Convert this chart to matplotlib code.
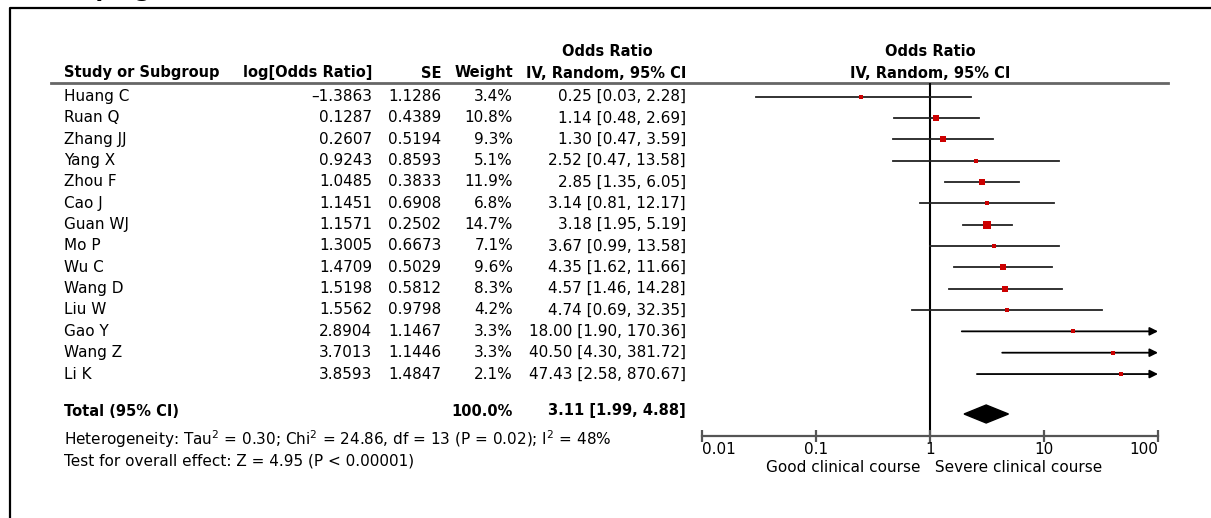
import matplotlib
matplotlib.use("Agg")
import matplotlib.pyplot as plt
import numpy as np

# ---- data ----
studies = ["Huang C", "Ruan Q", "Zhang JJ", "Yang X", "Zhou F", "Cao J", "Guan WJ",
           "Mo P", "Wu C", "Wang D", "Liu W", "Gao Y", "Wang Z", "Li K"]
log_or = [-1.3863, 0.1287, 0.2607, 0.9243, 1.0485, 1.1451, 1.1571,
          1.3005, 1.4709, 1.5198, 1.5562, 2.8904, 3.7013, 3.8593]
se = [1.1286, 0.4389, 0.5194, 0.8593, 0.3833, 0.6908, 0.2502,
      0.6673, 0.5029, 0.5812, 0.9798, 1.1467, 1.1446, 1.4847]
weight = [3.4, 10.8, 9.3, 5.1, 11.9, 6.8, 14.7, 7.1, 9.6, 8.3, 4.2, 3.3, 3.3, 2.1]
odds = [0.25, 1.14, 1.30, 2.52, 2.85, 3.14, 3.18, 3.67, 4.35, 4.57, 4.74, 18.00, 40.50, 47.43]
ci_lo = [0.03, 0.48, 0.47, 0.47, 1.35, 0.81, 1.95, 0.99, 1.62, 1.46, 0.69, 1.90, 4.30, 2.58]
ci_hi = [2.28, 2.69, 3.59, 13.58, 6.05, 12.17, 5.19, 13.58, 11.66, 14.28, 32.35, 170.36, 381.72, 870.67]

total_or, total_lo, total_hi = 3.11, 1.99, 4.88
total_weight = 100.0
hetero = "Heterogeneity: Tau$^2$ = 0.30; Chi$^2$ = 24.86, df = 13 (P = 0.02); I$^2$ = 48%"
overall = "Test for overall effect: Z = 4.95 (P < 0.00001)"

axis_ticks = [0.01, 0.1, 1, 10, 100]
axis_labels = ["0.01", "0.1", "1", "10", "100"]
favours = ("Good clinical course", "Severe clinical course")

W, H = 1211, 518
FS = 11       # body text
FSB = 10.5    # bold headers
RED = "#cc0000"

fig = plt.figure(figsize=(W / 100, H / 100), dpi=100)
ax = fig.add_axes([0, 0, 1, 1])
ax.set_xlim(0, W)
ax.set_ylim(H, 0)
ax.axis("off")

# frame (left + top edge, rest is cut off in the reference)
ax.plot([10, 10, W + 5], [H + 5, 8, 8], color="black", lw=1.6, clip_on=False)
# title sitting above the crop, only its descenders show
ax.text(152, -3, "Grouping", ha="right", va="baseline", fontsize=16,
        fontweight="bold", clip_on=False)

# ---- table headers ----
x_name, x_log, x_se, x_w, x_ci = 64, 372, 441, 513, 686
hdr_y1, hdr_y2 = 51, 73
ax.text(607, hdr_y1, "Odds Ratio", ha="center", va="center", fontsize=FSB, fontweight="bold")
ax.text(x_name, hdr_y2, "Study or Subgroup", ha="left", va="center", fontsize=FSB, fontweight="bold")
ax.text(x_log, hdr_y2, "log[Odds Ratio]", ha="right", va="center", fontsize=FSB, fontweight="bold")
ax.text(x_se, hdr_y2, "SE", ha="right", va="center", fontsize=FSB, fontweight="bold")
ax.text(x_w, hdr_y2, "Weight", ha="right", va="center", fontsize=FSB, fontweight="bold")
ax.text(x_ci, hdr_y2, "IV, Random, 95% CI", ha="right", va="center", fontsize=FSB, fontweight="bold")
ax.text(930, hdr_y1, "Odds Ratio", ha="center", va="center", fontsize=FSB, fontweight="bold")
ax.text(930, hdr_y2, "IV, Random, 95% CI", ha="center", va="center", fontsize=FSB, fontweight="bold")
ax.plot([51, 1168], [83, 83], color="#666666", lw=2)

row_y = 96.5 + 21.35 * np.arange(len(studies))
for i, name in enumerate(studies):
    y = row_y[i]
    ax.text(x_name, y, name, ha="left", va="center", fontsize=FS)
    ax.text(x_log, y, f"{log_or[i]:.4f}".replace("-", "\u2013"), ha="right", va="center", fontsize=FS)
    ax.text(x_se, y, f"{se[i]:.4f}", ha="right", va="center", fontsize=FS)
    ax.text(x_w, y, f"{weight[i]:.1f}%", ha="right", va="center", fontsize=FS)
    ax.text(x_ci, y, f"{odds[i]:.2f} [{ci_lo[i]:.2f}, {ci_hi[i]:.2f}]",
            ha="right", va="center", fontsize=FS)

total_y = 411
ax.text(x_name, total_y, "Total (95% CI)", ha="left", va="center", fontsize=FSB, fontweight="bold")
ax.text(x_w, total_y, f"{total_weight:.1f}%", ha="right", va="center", fontsize=FSB, fontweight="bold")
ax.text(x_ci, total_y, f"{total_or:.2f} [{total_lo:.2f}, {total_hi:.2f}]",
        ha="right", va="center", fontsize=FSB, fontweight="bold")
ax.text(x_name, 439, hetero, ha="left", va="center", fontsize=FS)
ax.text(x_name, 461, overall, ha="left", va="center", fontsize=FS)

# ---- forest panel ----
px_left, px_right, px_top, px_axis = 702, 1158, 83, 436
axf = fig.add_axes([px_left / W, (H - px_axis) / H,
                    (px_right - px_left) / W, (px_axis - px_top) / H])
axf.set_xscale("log")
axf.set_xlim(axis_ticks[0], axis_ticks[-1])
axf.set_ylim(px_axis, px_top)
axf.patch.set_alpha(0)
for s in ("top", "left", "right"):
    axf.spines[s].set_visible(False)
axf.spines["bottom"].set_color("#555555")
axf.spines["bottom"].set_linewidth(1.6)
axf.set_yticks([])
axf.set_xticks(axis_ticks)
axf.xaxis.set_minor_locator(matplotlib.ticker.NullLocator())
axf.tick_params(axis="x", direction="inout", length=8, width=1.6, color="#555555",
                labelbottom=False)
for t, lab, ha in zip(axis_ticks, axis_labels, ["left", "center", "center", "center", "right"]):
    axf.text(t, 449, lab, ha=ha, va="center", fontsize=FS, clip_on=False)
axf.text(1, 468, favours[0] + "  ", ha="right", va="center", fontsize=FS, clip_on=False)
axf.text(1, 468, " " + favours[1], ha="left", va="center", fontsize=FS, clip_on=False)

axf.axvline(1, color="black", lw=1.5, zorder=1)

for i in range(len(studies)):
    y = row_y[i]
    hi = ci_hi[i]
    if hi > axis_ticks[-1]:
        # CI runs off the scale: arrow to the axis end
        axf.annotate("", xy=(axis_ticks[-1], y), xytext=(ci_lo[i], y),
                     arrowprops=dict(arrowstyle="-|>", color="black", lw=1.3,
                                     mutation_scale=12, shrinkA=0, shrinkB=0),
                     annotation_clip=False, zorder=2)
    else:
        axf.plot([ci_lo[i], hi], [y, y], color="#222222", lw=1.3, zorder=2)
    side_px = max(3.4, 1.85 * np.sqrt(weight[i]))
    axf.scatter([odds[i]], [y], marker="s", s=(side_px * 0.72) ** 2,
                color=RED, linewidths=0, zorder=5)

axf.fill([total_lo, total_or, total_hi, total_or],
         [total_y + 3, total_y + 3 - 9, total_y + 3, total_y + 3 + 9],
         color="black", zorder=3)

fig.savefig("out.png", dpi=100)
